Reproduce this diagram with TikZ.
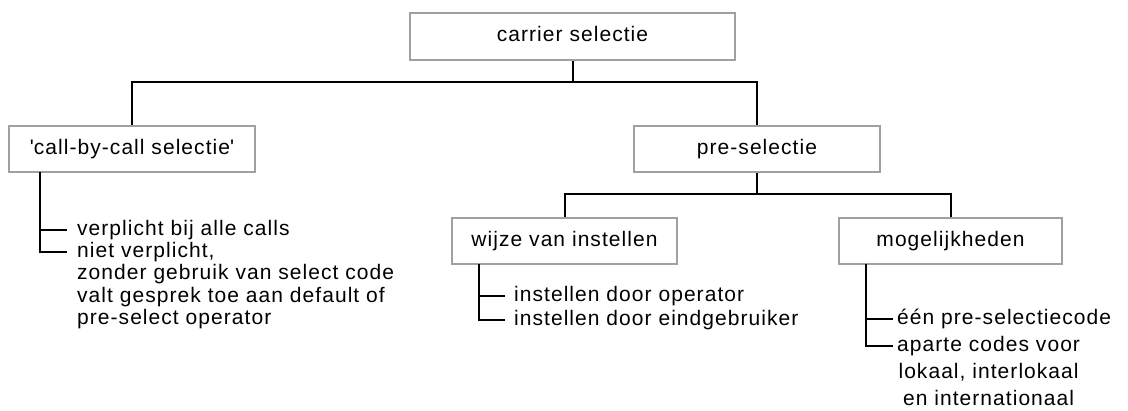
\documentclass[tikz,border=0pt]{standalone}
\usepackage{fontspec}
\setmainfont{Liberation Sans}[LetterSpace=5]
\definecolor{boxgray}{RGB}{160,160,160}
\tikzset{
  box/.style={draw=boxgray, line width=2pt, inner sep=0pt, text height=10.9pt, text depth=0pt,
    font=\fontsize{21}{22}\selectfont},
  conn/.style={draw=black, line width=2pt, line join=miter},
  itemL/.style={inner sep=0pt, anchor=base west, align=left, font=\fontsize{21}{22.5}\selectfont},
  itemM/.style={inner sep=0pt, anchor=base west, align=left, font=\fontsize{21}{24}\selectfont},
  itemR/.style={inner sep=0pt, anchor=base west, align=center, font=\fontsize{21}{27}\selectfont}
}
\begin{document}
\begin{tikzpicture}[x=1pt,y=-1pt]
\useasboundingbox (0,0) rectangle (1128,411);
% boxes
\node[box, minimum width=325pt, minimum height=47pt] (top) at (572.5,36.5) {carrier selectie};
\node[box, minimum width=246pt, minimum height=46pt] (cbc) at (132,149) {\textquotesingle call-by-call selectie\textquotesingle};
\node[box, minimum width=246pt, minimum height=46pt] (pre) at (757,149) {pre-selectie};
\node[box, minimum width=225pt, minimum height=46pt] (wijze) at (564.5,241) {wijze van instellen};
\node[box, minimum width=223pt, minimum height=46pt] (mog) at (950.5,241) {mogelijkheden};
% tree connectors
\coordinate (bus1) at (572,82);
\coordinate (bus2) at (757,194);
\draw[conn] (top.south) -- (top.south |- bus1);
\draw[conn] (cbc.north) |- (pre.north |- bus1) -- (pre.north);
\draw[conn] (pre.south) -- (pre.south |- bus2);
\draw[conn] (wijze.north) |- (mog.north |- bus2) -- (mog.north);
% items under call-by-call (multi-line nodes are placed by their last baseline)
\node[itemL] (c1) at (77,235.5) {verplicht bij alle calls};
\node[itemL] (c2) at (77,325) {niet verplicht,\\zonder gebruik van select code\\valt gesprek toe aan default of\\pre-select operator};
\coordinate (cv) at (40,172);
\coordinate (ct1) at (67,230);
\coordinate (ct2) at (67,252);
\draw[conn] (cv) |- (ct2);
\draw[conn] (cv |- ct1) -- (ct1);
% items under wijze
\node[itemM] (w1) at (514,301.5) {instellen door operator};
\node[itemM] (w2) at (514,325.5) {instellen door eindgebruiker};
\coordinate (wv) at (479,264);
\coordinate (wt1) at (505,296);
\coordinate (wt2) at (505,320);
\draw[conn] (wv) |- (wt2);
\draw[conn] (wv |- wt1) -- (wt1);
% items under mogelijkheden
\node[itemM] (m1) at (897,324.5) {één pre-selectiecode};
\node[itemR] (m2) at (897,405.5) {aparte codes voor\\lokaal, interlokaal\\en internationaal};
\coordinate (mv) at (866,264);
\coordinate (mt1) at (893,319);
\coordinate (mt2) at (893,346);
\draw[conn] (mv) |- (mt2);
\draw[conn] (mv |- mt1) -- (mt1);
\end{tikzpicture}
\end{document}
